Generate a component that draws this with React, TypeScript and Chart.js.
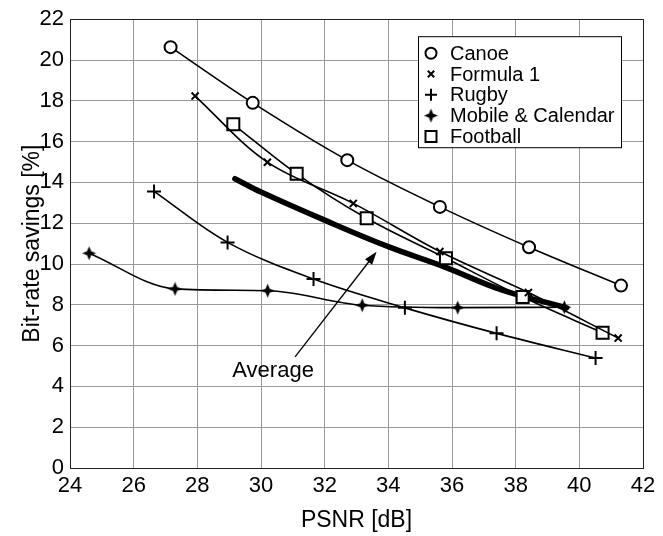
import React, { useEffect, useRef } from 'react';
import { Chart, registerables } from 'chart.js';

Chart.register(...registerables);

// ---- data ----
const canoeX = [27.16, 29.74, 32.71, 35.62, 38.42, 41.31];
const canoeY = [20.63, 17.9, 15.09, 12.8, 10.82, 8.94];
const formulaX = [27.93, 30.2, 32.9, 35.62, 38.4, 41.22];
const formulaY = [18.23, 14.99, 12.97, 10.61, 8.6, 6.37];
const rugbyX = [26.64, 28.95, 31.65, 34.52, 37.4, 40.51];
const rugbyY = [13.56, 11.06, 9.26, 7.85, 6.6, 5.39];
const mobileX = [24.6, 27.3, 30.21, 33.18, 36.18, 39.53];
const mobileY = [10.53, 8.78, 8.69, 7.98, 7.86, 7.88];
const footballX = [29.13, 31.12, 33.32, 35.81, 38.22, 40.73];
const footballY = [16.85, 14.42, 12.24, 10.28, 8.38, 6.63];
const averageX = [29.18, 30.0, 32.0, 34.0, 35.78, 37.51, 39.6];
const averageY = [14.18, 13.53, 12.15, 10.85, 9.85, 8.76, 7.85];

const seriesNames = ['Canoe', 'Formula 1', 'Rugby', 'Mobile & Calendar', 'Football'];
const averageLabel = 'Average';
const arrowTail = [31.07, 5.45];
const arrowHead = [33.63, 10.6];
const averageTextPos = [30.38, 4.75];

const xTicks = [24, 26, 28, 30, 32, 34, 36, 38, 40, 42];
const yTicks = [0, 2, 4, 6, 8, 10, 12, 14, 16, 18, 20, 22];
const xTitle = 'PSNR [dB]';
const yTitle = 'Bit-rate savings [%]';

const FONT = '"Liberation Sans", Arial, Helvetica, sans-serif';

function pts(xs: number[], ys: number[]) {
  return xs.map((x, i) => ({ x, y: ys[i] }));
}

function makeStar(size: number): HTMLCanvasElement {
  const c = document.createElement('canvas');
  c.width = size;
  c.height = size;
  const g = c.getContext('2d')!;
  const cx = size / 2, cy = size / 2, R = size / 2 - 0.5, r = R * 0.42;
  g.fillStyle = '#000';
  g.beginPath();
  for (let i = 0; i < 8; i++) {
    const a = (i * Math.PI) / 4 - Math.PI / 2;
    const rr = i % 2 === 0 ? R : r;
    const px = cx + rr * Math.cos(a), py = cy + rr * Math.sin(a);
    if (i === 0) g.moveTo(px, py); else g.lineTo(px, py);
  }
  g.closePath();
  g.fill();
  return c;
}

function drawMarker(ctx: CanvasRenderingContext2D, kind: string, x: number, y: number, star: HTMLCanvasElement) {
  ctx.save();
  ctx.strokeStyle = '#000';
  ctx.fillStyle = '#fff';
  ctx.lineWidth = 2;
  ctx.beginPath();
  if (kind === 'circle') {
    ctx.arc(x, y, 5.5, 0, Math.PI * 2);
    ctx.fill();
    ctx.stroke();
  } else if (kind === 'crossRot') {
    const s = 3.2;
    ctx.moveTo(x - s, y - s); ctx.lineTo(x + s, y + s);
    ctx.moveTo(x + s, y - s); ctx.lineTo(x - s, y + s);
    ctx.stroke();
  } else if (kind === 'cross') {
    const s = 6;
    ctx.moveTo(x - s, y); ctx.lineTo(x + s, y);
    ctx.moveTo(x, y - s); ctx.lineTo(x, y + s);
    ctx.stroke();
  } else if (kind === 'star') {
    ctx.drawImage(star, x - star.width / 2, y - star.height / 2);
  } else if (kind === 'rect') {
    ctx.rect(x - 5.5, y - 5.5, 11, 11);
    ctx.fill();
    ctx.stroke();
  }
  ctx.restore();
}

export default function App() {
  const ref = useRef<HTMLCanvasElement | null>(null);

  useEffect(() => {
    if (!ref.current) return;
    const star = makeStar(15);
    const markerKinds = ['circle', 'crossRot', 'cross', 'star', 'rect'];

    const legendPlugin = {
      id: 'boxLegend',
      afterDraw(chart: any) {
        const ctx: CanvasRenderingContext2D = chart.ctx;
        const area = chart.chartArea;
        const w = 203, h = 111;
        const right = area.right - 22;
        const left = right - w;
        const top = area.top + 17;
        ctx.save();
        ctx.fillStyle = '#fff';
        ctx.fillRect(left, top, w, h);
        ctx.strokeStyle = '#000';
        ctx.lineWidth = 1;
        ctx.strokeRect(left + 0.5, top + 0.5, w, h);
        ctx.font = `20px ${FONT}`;
        ctx.fillStyle = '#000';
        ctx.textBaseline = 'middle';
        ctx.textAlign = 'left';
        seriesNames.forEach((name, i) => {
          const y = top + 17 + i * 20.8;
          drawMarker(ctx, markerKinds[i], left + 13, y, star);
          ctx.fillStyle = '#000';
          ctx.fillText(name, left + 32, y + 1);
        });
        ctx.restore();
      },
    };

    const arrowPlugin = {
      id: 'avgArrow',
      afterDatasetsDraw(chart: any) {
        const ctx: CanvasRenderingContext2D = chart.ctx;
        const xs = chart.scales.x, ys = chart.scales.y;
        const x1 = xs.getPixelForValue(arrowTail[0]), y1 = ys.getPixelForValue(arrowTail[1]);
        const x2 = xs.getPixelForValue(arrowHead[0]), y2 = ys.getPixelForValue(arrowHead[1]);
        const ang = Math.atan2(y2 - y1, x2 - x1);
        const L = 13, W = 4.5;
        ctx.save();
        ctx.strokeStyle = '#000';
        ctx.fillStyle = '#000';
        ctx.lineWidth = 1.3;
        ctx.beginPath();
        ctx.moveTo(x1, y1);
        ctx.lineTo(x2 - Math.cos(ang) * L * 0.8, y2 - Math.sin(ang) * L * 0.8);
        ctx.stroke();
        ctx.beginPath();
        ctx.moveTo(x2, y2);
        ctx.lineTo(x2 - Math.cos(ang) * L - Math.sin(ang) * W, y2 - Math.sin(ang) * L + Math.cos(ang) * W);
        ctx.lineTo(x2 - Math.cos(ang) * L + Math.sin(ang) * W, y2 - Math.sin(ang) * L - Math.cos(ang) * W);
        ctx.closePath();
        ctx.fill();
        ctx.font = `22px ${FONT}`;
        ctx.textAlign = 'center';
        ctx.textBaseline = 'middle';
        ctx.fillText(averageLabel, xs.getPixelForValue(averageTextPos[0]), ys.getPixelForValue(averageTextPos[1]));
        ctx.restore();
      },
    };

    const lineBase = {
      showLine: true,
      borderColor: '#000',
      borderWidth: 1.6,
      pointBorderColor: '#000',
      pointBackgroundColor: '#fff',
      pointBorderWidth: 2,
      tension: 0.35,
    };

    const chart = new Chart(ref.current, {
      type: 'scatter',
      data: {
        datasets: [
          { ...lineBase, label: 'Average', data: pts(averageX, averageY), borderWidth: 5.5, pointRadius: 0, tension: 0.4, borderCapStyle: 'round', order: 6 },
          { ...lineBase, label: seriesNames[0], data: pts(canoeX, canoeY), pointStyle: 'circle', pointRadius: 6 },
          { ...lineBase, label: seriesNames[1], data: pts(formulaX, formulaY), pointStyle: 'crossRot', pointRadius: 5 },
          { ...lineBase, label: seriesNames[2], data: pts(rugbyX, rugbyY), pointStyle: 'cross', pointRadius: 7 },
          { ...lineBase, label: seriesNames[3], data: pts(mobileX, mobileY), pointStyle: star as any, pointRadius: 7, cubicInterpolationMode: 'monotone' },
          { ...lineBase, label: seriesNames[4], data: pts(footballX, footballY), pointStyle: 'rect', pointRadius: 8.5 },
        ],
      },
      options: {
        animation: false,
        responsive: true,
        maintainAspectRatio: false,
        layout: { padding: { top: 16, right: 20, left: 0, bottom: 0 } },
        plugins: { legend: { display: false }, tooltip: { enabled: false } },
        scales: {
          x: {
            type: 'linear',
            min: xTicks[0],
            max: xTicks[xTicks.length - 1],
            afterBuildTicks: (s: any) => { s.ticks = xTicks.map((v) => ({ value: v })); },
            afterFit: (s: any) => { s.height = 68; },
            ticks: { color: '#000', font: { family: FONT, size: 22 }, padding: 5, maxRotation: 0 },
            grid: {
              drawTicks: false,
              color: (c: any) => (c.tick && c.tick.value === xTicks[xTicks.length - 1] ? '#222' : '#999'),
              lineWidth: 1,
            },
            border: { display: true, color: '#222', width: 1 },
            title: { display: true, text: xTitle, color: '#000', font: { family: FONT, size: 23 }, padding: { top: 0, bottom: 2 } },
          },
          y: {
            type: 'linear',
            min: yTicks[0],
            max: yTicks[yTicks.length - 1],
            afterBuildTicks: (s: any) => { s.ticks = yTicks.map((v) => ({ value: v })); },
            afterFit: (s: any) => { s.width = 70; },
            ticks: { color: '#000', font: { family: FONT, size: 22 }, padding: 6 },
            grid: {
              drawTicks: false,
              color: (c: any) => (c.tick && c.tick.value === yTicks[yTicks.length - 1] ? '#222' : '#999'),
              lineWidth: 1,
            },
            border: { display: true, color: '#222', width: 1 },
            title: { display: true, text: yTitle, color: '#000', font: { family: FONT, size: 23 }, padding: { top: 19, bottom: 0 } },
          },
        },
      },
      plugins: [arrowPlugin, legendPlugin],
    } as any);

    return () => chart.destroy();
  }, []);

  return (
    <div style={{ position: 'fixed', left: 0, top: 0, width: 663, height: 536, background: '#fff' }}>
      <canvas ref={ref} />
    </div>
  );
}
